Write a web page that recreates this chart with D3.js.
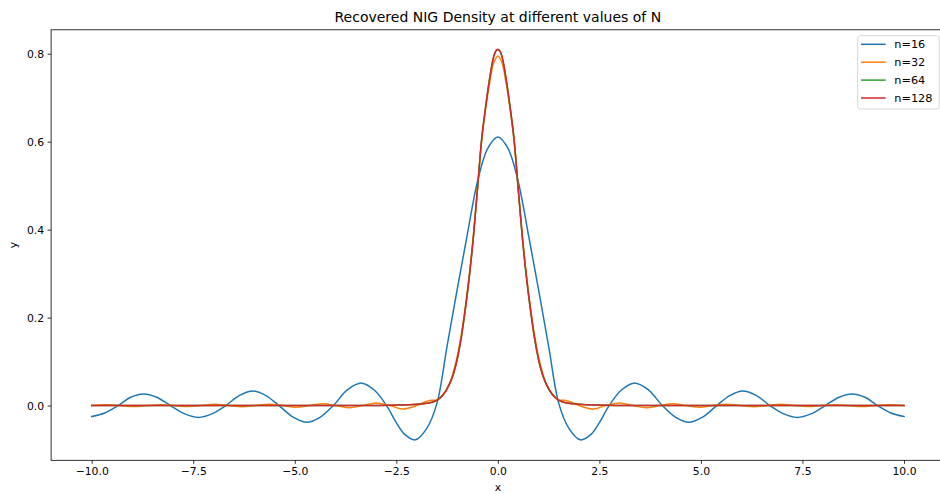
<!DOCTYPE html>
<html>
<head>
<meta charset="utf-8">
<script src="https://cdn.jsdelivr.net/npm/d3@7"></script>
<style>
  body { margin: 0; background: #fff; }
  svg { display: block; font-family: "DejaVu Sans", sans-serif; }
  .axis text { font-size: 10.8px; fill: #000; }
  .axis line { stroke: #000; stroke-width: 0.8; }
  .title { font-size: 14px; }
  .label { font-size: 10.8px; }
  .legend text { font-size: 11.3px; }
</style>
</head>
<body>
<svg id="chart" width="940" height="493"></svg>
<script>
// values
const seriesNames = ["n=16", "n=32", "n=64", "n=128"];
const colors = ["#1f77b4", "#ff7f0e", "#2ca02c", "#d62728"];

const x16 = [-10, -9.68, -9.35, -9.04, -8.72, -8.4, -8.06, -7.71, -7.37, -7.04, -6.7, -6.36, -6.03, -5.72, -5.39, -5.03, -4.7, -4.38, -4.05, -3.7, -3.35, -3.05, -2.74, -2.5, -2.3, -2.03, -1.75, -1.5, -1.25, -1.0, -0.75, -0.5, -0.25,
  0, 0.25, 0.5, 0.75, 1.0, 1.25, 1.5, 1.75, 2.03, 2.3, 2.5, 2.74, 3.05, 3.35, 3.7, 4.05, 4.38, 4.7, 5.03, 5.39, 5.72, 6.03, 6.36, 6.7, 7.04, 7.37, 7.71, 8.06, 8.4, 8.72, 9.04, 9.35, 9.68, 10];
const y16 = [-0.025, -0.017, 0, 0.019, 0.0265, 0.019, 0, -0.019, -0.027, -0.019, 0, 0.023, 0.033, 0.023, 0, -0.027, -0.038, -0.027, 0, 0.036, 0.051, 0.036, 0, -0.039, -0.065, -0.078, -0.052, 0.005, 0.135, 0.265, 0.39, 0.51, 0.585,
  0.611, 0.585, 0.51, 0.39, 0.265, 0.135, 0.005, -0.052, -0.078, -0.065, -0.039, 0, 0.036, 0.051, 0.036, 0, -0.027, -0.038, -0.027, 0, 0.023, 0.033, 0.023, 0, -0.019, -0.027, -0.019, 0, 0.019, 0.0265, 0.019, 0, -0.017, -0.025];

const x32 = [-10, -9.63, -9.3, -8.97, -8.63, -8.3, -7.97, -7.63, -7.3, -6.97, -6.63, -6.3, -5.97, -5.63, -5.3, -4.97, -4.63, -4.3, -3.98, -3.65, -3.33, -3.0, -2.66, -2.33, -2.0, -1.8, -1.65, -1.5, -1.35, -1.2, -1.1, -1.0, -0.9, -0.8, -0.7, -0.6, -0.5, -0.4, -0.3, -0.2, -0.1,
  0, 0.1, 0.2, 0.3, 0.4, 0.5, 0.6, 0.7, 0.8, 0.9, 1.0, 1.1, 1.2, 1.35, 1.5, 1.65, 1.8, 2.0, 2.33, 2.66, 3.0, 3.33, 3.65, 3.98, 4.3, 4.63, 4.97, 5.3, 5.63, 5.97, 6.3, 6.63, 6.97, 7.3, 7.63, 7.97, 8.3, 8.63, 8.97, 9.3, 9.63, 10];
const y32 = [0, 0.002, 0, -0.002, 0, 0.002, 0, -0.002, 0, 0.003, 0, -0.003, 0, 0.003, 0, -0.004, 0, 0.004, 0, -0.005, 0, 0.006, 0, -0.008, 0, 0.008, 0.012, 0.013, 0.025, 0.048, 0.075, 0.112, 0.162, 0.225, 0.3, 0.39, 0.495, 0.6, 0.675, 0.735, 0.78,
  0.795, 0.78, 0.735, 0.675, 0.6, 0.495, 0.39, 0.3, 0.225, 0.162, 0.112, 0.075, 0.048, 0.025, 0.013, 0.012, 0.008, 0, -0.008, 0, 0.006, 0, -0.005, 0, 0.004, 0, -0.004, 0, 0.003, 0, -0.003, 0, 0.003, 0, -0.002, 0, 0.002, 0, -0.002, 0, 0.002, 0];

const x64 = [-10, -9, -8, -7, -6, -5, -4, -3, -2.5, -2.0, -1.75, -1.5, -1.35, -1.2, -1.1, -1.0, -0.9, -0.8, -0.7, -0.6, -0.5, -0.4, -0.3, -0.2, -0.1,
  0, 0.1, 0.2, 0.3, 0.4, 0.5, 0.6, 0.7, 0.8, 0.9, 1.0, 1.1, 1.2, 1.35, 1.5, 1.75, 2.0, 2.5, 3, 4, 5, 6, 7, 8, 9, 10];
const y64 = [0, 0, 0, 0, 0, 0, 0, 0, 0.001, 0.003, 0.005, 0.012, 0.024, 0.047, 0.07, 0.105, 0.155, 0.22, 0.295, 0.385, 0.495, 0.605, 0.68, 0.745, 0.794,
  0.809, 0.794, 0.745, 0.68, 0.605, 0.495, 0.385, 0.295, 0.22, 0.155, 0.105, 0.07, 0.047, 0.024, 0.012, 0.005, 0.003, 0.001, 0, 0, 0, 0, 0, 0, 0, 0];

const x128 = [-10, -9, -8, -7, -6, -5, -4, -3, -2.5, -2.0, -1.75, -1.5, -1.35, -1.2, -1.1, -1.0, -0.9, -0.8, -0.7, -0.6, -0.5, -0.4, -0.3, -0.2, -0.1,
  0, 0.1, 0.2, 0.3, 0.4, 0.5, 0.6, 0.7, 0.8, 0.9, 1.0, 1.1, 1.2, 1.35, 1.5, 1.75, 2.0, 2.5, 3, 4, 5, 6, 7, 8, 9, 10];
const y128 = [0, 0, 0, 0, 0, 0, 0, 0, 0.001, 0.003, 0.005, 0.012, 0.024, 0.047, 0.07, 0.105, 0.155, 0.22, 0.295, 0.385, 0.495, 0.605, 0.68, 0.745, 0.795,
  0.81, 0.795, 0.745, 0.68, 0.605, 0.495, 0.385, 0.295, 0.22, 0.155, 0.105, 0.07, 0.047, 0.024, 0.012, 0.005, 0.003, 0.001, 0, 0, 0, 0, 0, 0, 0, 0];

const xTicks = [-10, -7.5, -5, -2.5, 0, 2.5, 5, 7.5, 10];
const yTicks = [0, 0.2, 0.4, 0.6, 0.8];

const series = [[x16, y16], [x32, y32], [x64, y64], [x128, y128]];
// smooth curves for the wavy series, monotone for the converged ones
const curves = [d3.curveCatmullRom.alpha(0.5), d3.curveCatmullRom.alpha(0.5), d3.curveMonotoneX, d3.curveMonotoneX];

const svg = d3.select("#chart");
const mLeft = 51.1, mRight = 944.6, mTop = 29.8, mBottom = 460.3;

const scale_X = d3.scaleLinear().domain([-11, 11]).range([mLeft, mRight]);
const scale_Y = d3.scaleLinear().domain([-0.1245, 0.8545]).range([mBottom, mTop]);

// axes
svg.append("g").attr("class", "axis")
  .attr("transform", `translate(0,${mBottom})`)
  .call(d3.axisBottom(scale_X).tickValues(xTicks).tickFormat(d3.format(".1f"))
    .tickSize(3.5).tickPadding(3.5).tickSizeOuter(0))
  .call(g => g.select(".domain").remove());

svg.append("g").attr("class", "axis")
  .attr("transform", `translate(${mLeft},0)`)
  .call(d3.axisLeft(scale_Y).tickValues(yTicks).tickFormat(d3.format(".1f"))
    .tickSize(3.5).tickPadding(3.5).tickSizeOuter(0))
  .call(g => g.select(".domain").remove());

svg.selectAll(".axis").attr("font-family", null).attr("font-size", null);

// lines
series.forEach((s, i) => {
  const pts = s[0].map((xv, j) => [xv, s[1][j]]);
  const line = d3.line()
    .x(d => scale_X(d[0]))
    .y(d => scale_Y(d[1]))
    .curve(curves[i]);
  svg.append("path")
    .datum(pts)
    .attr("fill", "none")
    .attr("stroke", colors[i])
    .attr("stroke-width", 1.5)
    .attr("stroke-linejoin", "round")
    .attr("stroke-linecap", "square")
    .attr("d", line);
});

// spines
svg.append("rect")
  .attr("x", mLeft).attr("y", mTop)
  .attr("width", mRight - mLeft).attr("height", mBottom - mTop)
  .attr("fill", "none").attr("stroke", "#000").attr("stroke-width", 0.8);

// title and labels
svg.append("text").attr("class", "title")
  .attr("x", (mLeft + mRight) / 2).attr("y", 22)
  .attr("text-anchor", "middle")
  .text("Recovered NIG Density at different values of N");

svg.append("text").attr("class", "label")
  .attr("x", (mLeft + mRight) / 2).attr("y", 491)
  .attr("text-anchor", "middle")
  .text("x");

svg.append("text").attr("class", "label")
  .attr("transform", `translate(16.5,${(mTop + mBottom) / 2}) rotate(-90)`)
  .attr("text-anchor", "middle")
  .text("y");

// legend
const legend = svg.append("g").attr("class", "legend");
legend.append("rect")
  .attr("x", 857.7).attr("y", 35.7)
  .attr("width", 81.5).attr("height", 73.3)
  .attr("rx", 2.5)
  .attr("fill", "#fff").attr("fill-opacity", 0.8)
  .attr("stroke", "#cccccc").attr("stroke-width", 0.8);

seriesNames.forEach((name, i) => {
  const yy = 44.3 + i * 17.9;
  legend.append("line")
    .attr("x1", 861).attr("x2", 885.7)
    .attr("y1", yy).attr("y2", yy)
    .attr("stroke", colors[i]).attr("stroke-width", 1.5);
  legend.append("text")
    .attr("x", 894.3).attr("y", yy)
    .attr("dy", "0.36em")
    .text(name);
});
</script>
</body>
</html>
